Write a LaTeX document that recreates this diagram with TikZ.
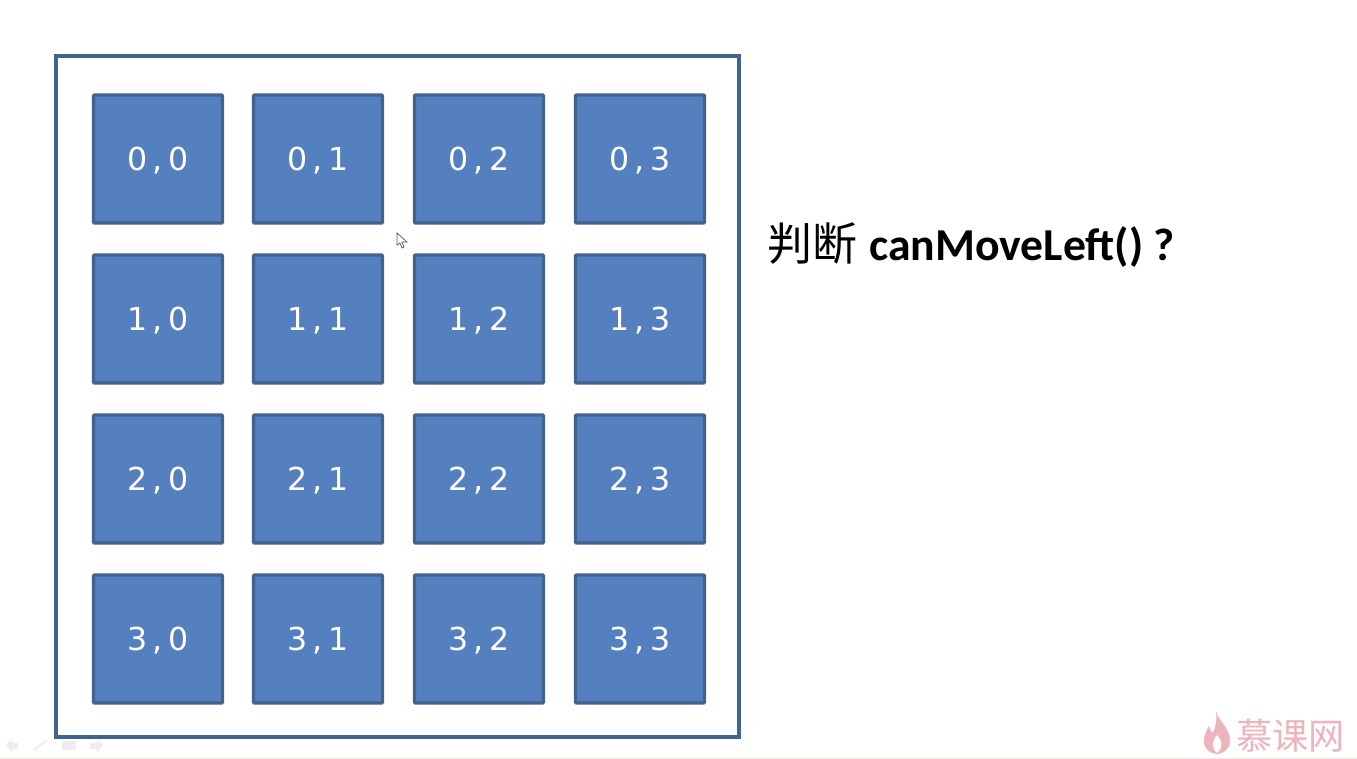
\documentclass[tikz,border=0pt]{standalone}
\usepackage{fontspec}
\setmainfont{DejaVu Sans}
\newfontfamily\latinfont{Carlito}
\newfontfamily\cjkfont{Noto Sans CJK SC}
\definecolor{cellblue}{HTML}{5580C0}
\definecolor{edgeblue}{HTML}{42628F}
\definecolor{markpink}{HTML}{EDB4BE}
\begin{document}
\begin{tikzpicture}[x=0.02cm,y=-0.02cm,
    cell/.style={draw=edgeblue,fill=cellblue,line width=1.8pt,rounded corners=0.5pt,
      minimum width=2.58cm,minimum height=2.56cm,inner sep=0pt,text=white,
      text height=13pt,text depth=0pt,font=\fontsize{18}{18}\selectfont},
    toolicon/.style={fill=black!7,draw=none}]
  \useasboundingbox (0,0) rectangle (1357,759);
  \fill[white] (0,0) rectangle (1357,759);

  % marco exterior
  \draw[edgeblue,line width=1.9pt] (56,56) rectangle (739,737);

  % celdas
  \foreach \row/\ypos in {0/159,1/319,2/479,3/639}
    \foreach \col/\xpos in {0/158,1/318,2/479,3/640}
      \node[cell] (c\row\col) at (\xpos,\ypos) {\row\hspace{0.1cm},\hspace{0.1cm}\col};

  % titulo
  \node[anchor=west,inner sep=0pt] (title) at (767,245)
    {{\cjkfont\fontsize{25.6}{26}\selectfont 判断}\hspace{0.24cm}{\latinfont\bfseries\fontsize{26}{26}\selectfont canMoveLeft() ?}};

  % cursor
  \draw[fill=white,draw=black!65,line width=0.4pt] (397,233) -- (397,245) -- (400,243) -- (402,248)
    -- (404,247) -- (402,242) -- (407,242) -- cycle;

  % marca de agua
  \fill[markpink] (1216,711) .. controls (1219,722) and (1230,728) .. (1230,741)
    .. controls (1230,749) and (1223,754) .. (1217,754)
    .. controls (1210,754) and (1204,749) .. (1204,741)
    .. controls (1204,734) and (1207,730) .. (1209,726)
    .. controls (1210,730) and (1211,732) .. (1213,733)
    .. controls (1216,727) and (1217,719) .. (1216,711) -- cycle;
  \fill[white] (1217,735) .. controls (1222,741) and (1224,746) .. (1217,753)
    .. controls (1211,748) and (1212,741) .. (1217,735) -- cycle;
  \node[anchor=west,inner sep=0pt,text=markpink] (mark) at (1236,736)
    {\cjkfont\fontsize{20.6}{21}\selectfont 慕课网};

  % barra inferior
  \fill[toolicon] (6,745) -- (12,740) -- (12,743) -- (18,743) -- (18,749) -- (12,749) -- (12,752) -- cycle;
  \draw[black!7,line width=1.2pt] (34,750) -- (46,741);
  \fill[toolicon] (62,741) rectangle (76,750);
  \fill[toolicon] (103,745) -- (97,740) -- (97,743) -- (90,743) -- (90,749) -- (97,749) -- (97,752) -- cycle;
  \draw[markpink!35,line width=0.5pt] (0,758) -- (1357,758);
\end{tikzpicture}
\end{document}
